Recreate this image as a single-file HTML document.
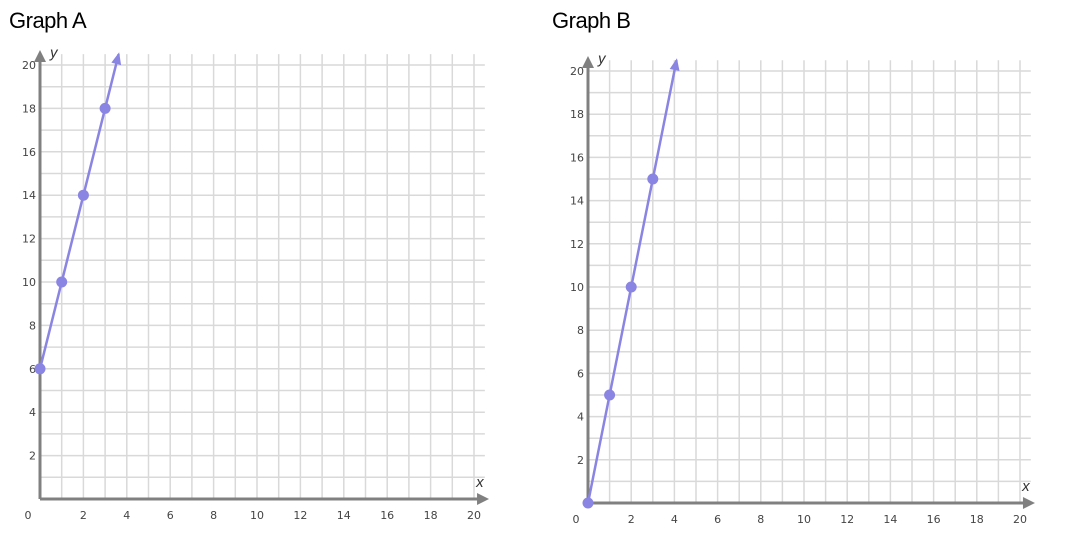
<!DOCTYPE html>
<html><head><meta charset="utf-8"><style>
body{margin:0;background:#fff;width:1065px;height:550px;overflow:hidden;font-family:"Liberation Sans",sans-serif}
.t{position:absolute;top:8px;font-size:22px;color:#000;letter-spacing:-0.5px}
</style></head><body>
<div class="t" style="left:9px">Graph A</div>
<div class="t" style="left:552px">Graph B</div>
<svg id="s" width="1065" height="550" style="position:absolute;left:0;top:0"></svg>
<script>
const xTicks=[0,2,4,6,8,10,12,14,16,18,20];
const yTicks=[2,4,6,8,10,12,14,16,18,20];
const aX=[0,1,2,3];
const aY=[6,10,14,18];
const bX=[0,1,2,3];
const bY=[0,5,10,15];
const svg=document.getElementById('s');
const NS='http://www.w3.org/2000/svg';
function mk(tag,at,parent){const e=document.createElementNS(NS,tag);for(const k in at)e.setAttribute(k,at[k]);(parent||svg).appendChild(e);return e;}
function chart(name,ox,oy,ux,uy,xs,ys){
  const g=mk('g',{});
  
  
  const X=v=>ox+v*ux, Y=v=>oy-v*uy;
  const gridR=X(20.5), gridT=Y(20.5);
  for(let i=1;i<=20;i++){
    mk('line',{x1:X(i),x2:X(i),y1:oy,y2:gridT,stroke:'#d9d9d9','stroke-width':1.5},g);
    mk('line',{x1:ox,x2:gridR,y1:Y(i),y2:Y(i),stroke:'#d9d9d9','stroke-width':1.5},g);
  }
  mk('line',{x1:ox,y1:oy,x2:X(20.4),y2:oy,stroke:'#808080','stroke-width':3},g);
  mk('path',{d:`M${X(20.6)+2},${oy} l-12,-6 l0,12 z`,fill:'#808080'},g);
  mk('line',{x1:ox,y1:oy,x2:ox,y2:Y(20.4),stroke:'#808080','stroke-width':3},g);
  mk('path',{d:`M${ox},${Y(20.6)-2} l-6,12 l12,0 z`,fill:'#808080'},g);
  const xl=mk('text',{x:X(20.1),y:oy-12,'font-size':15,'font-style':'italic',fill:'#333','font-family':'Liberation Sans'},g);xl.textContent='x';
  
  
  const yl=mk('text',{x:ox+10,y:Y(20.35),'font-size':15,'font-style':'italic',fill:'#333','font-family':'Liberation Sans'},g);yl.textContent='y';
  
  
  xTicks.forEach(v=>{const t=mk('text',{x:v===0?ox-12:X(v),y:oy+20,'font-size':11,fill:'#444','text-anchor':'middle','font-family':'DejaVu Sans'},g);t.textContent=v;
    
    });
  yTicks.forEach(v=>{const t=mk('text',{x:ox-4,y:Y(v)+4,'font-size':11,fill:'#444','text-anchor':'end','font-family':'DejaVu Sans'},g);t.textContent=v;
    
    });
  const n=xs.length, slope=(ys[n-1]-ys[0])/(xs[n-1]-xs[0]);
  const endY=20.5, endX=xs[0]+(endY-ys[0])/slope;
  const x1=X(xs[0]),y1=Y(ys[0]),x2=X(endX),y2=Y(endY);
  const ln=mk('line',{x1:x1,y1:y1,x2:x2,y2:y2,stroke:'#8a84e2','stroke-width':2.5},g);
  
  
  const ang=Math.atan2(y2-y1,x2-x1)*180/Math.PI;
  mk('path',{d:'M2,0 l-12,-5 l0,10 z',fill:'#8a84e2',transform:`translate(${x2},${y2}) rotate(${ang})`},g);
  xs.forEach((v,i)=>{const c=mk('circle',{cx:X(v),cy:Y(ys[i]),r:5.5,fill:'#8a84e2'},g);
    
    });
}
chart('graph-a',40,499,21.7,21.7,aX,aY);
chart('graph-b',588,503,21.6,21.6,bX,bY);
</script>
</body></html>
